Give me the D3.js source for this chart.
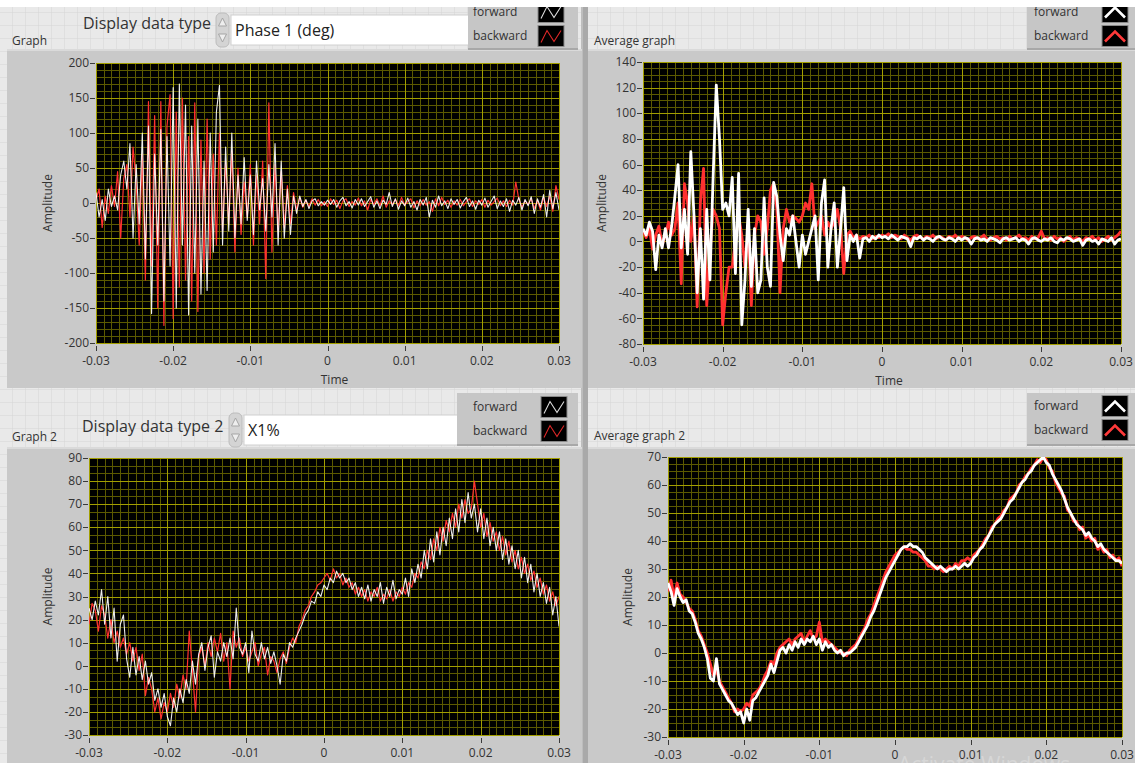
<!DOCTYPE html>
<html><head><meta charset="utf-8">
<script src="https://cdn.jsdelivr.net/npm/d3@7"></script>
<style>
html,body{margin:0;padding:0;background:#fff;overflow:hidden;}
svg{display:block;font-family:"Segoe UI","Open Sans","Noto Sans",sans-serif;}
</style></head><body>
<svg id="chart" width="1135" height="763"></svg>
<script>
// Waveform sampling: every series starts at t0 and is sampled every dt seconds
const t0 = -0.03, dt = 0.0004;

const timeTicks = [-0.03, -0.02, -0.01, 0, 0.01, 0.02, 0.03];
const timeTickLabels = ["-0.03", "-0.02", "-0.01", "0", "0.01", "0.02", "0.03"];
const phaseTicks = [-200, -150, -100, -50, 0, 50, 100, 150, 200];
const phaseAvgTicks = [-80, -60, -40, -20, 0, 20, 40, 60, 80, 100, 120, 140];
const x1Ticks = [-30, -20, -10, 0, 10, 20, 30, 40, 50, 60, 70, 80, 90];
const x1AvgTicks = [-30, -20, -10, 0, 10, 20, 30, 40, 50, 60, 70];

const seriesNames = ["forward", "backward"];

// Graph: Phase 1 (deg)
const phaseForward = [15,-20,5,-25,20,-5,10,-10,40,60, 20,85,-50,55,-30,100,-80,110,-158,70, -60,105,-140,95,-90,165,-150,170,-60,140, -160,110,-100,120,-130,60,-125,100,-70,130, 168,-60,80,-40,100,-50,40,-30,65,-25, 40,-45,60,-10,35,-40,55,-20,85,-60, 60,-50,20,-45,10,-15,10,-5,5,-8, 3,6,-4,2,-3,4,-2,5,-6,3, 8,-4,2,-7,5,-3,6,-5,2,9, -6,3,-8,4,-2,15,-5,6,-9,3, -4,7,-6,2,-10,5,-3,8,-20,4, -6,10,-4,3,-8,6,-2,5,-7,2, 8,-5,3,-9,4,-3,7,-6,2,10, -8,3,-5,6,-12,4,-3,8,-10,5, -4,9,-15,6,-6,12,-20,18,-8,15, -10];
const phaseBackward = [5,20,-35,10,-15,25,-5,45,-50,35, 55,-20,80,30,-60,70,-110,145,-90,125, -150,145,-175,110,155,-165,130,-120,150,-110, 95,-140,143,-155,90,-100,120,-80,70,-60, 100,-40,60,-30,75,-70,50,-45,30,-20, 55,-60,40,-30,60,-108,143,-70,55,-40, 45,-35,25,-30,15,-10,8,-6,4,-5, 6,-3,5,-4,2,-5,6,-2,4,-8, 3,6,-5,2,-3,7,-4,3,-10,5, -2,6,-4,10,-6,3,-2,5,-4,8, -3,2,6,-7,3,-4,5,-3,2,-12, 6,-4,8,-2,4,-6,3,-3,5,-4, 2,6,-5,3,-2,5,-6,4,-3,2, 7,-4,3,-5,4,-3,30,5,-6,3, -2,6,-8,4,-10,8,-5,10,-12,25, 5];

// Average graph
const phaseAvgForward = [10,5,15,8,-22,5,-5,10,-5,12, 35,60,-5,25,-10,70,20,-40,10,-45, 25,-30,50,122,80,25,30,20,50,-25, 53,-65,-30,25,-35,10,-40,-30,34,-20, -35,46,35,5,-15,10,5,20,0,-20, 5,-10,0,10,20,-30,30,48,-20,10, 30,-20,10,42,-15,5,0,5,-13,2, 3,0,4,2,5,3,4,2,5,3, 1,4,3,2,-4,3,2,4,1,3, 2,0,3,4,2,1,3,2,0,3, 1,3,2,-2,2,3,1,2,0,3, 2,1,-1,2,3,1,2,3,0,2, 1,-2,2,3,1,0,2,1,3,0, -1,2,1,3,2,0,1,2,-3,1, 2,0,1,-2,2,1,0,3,-2,1, 2];
const phaseAvgBackward = [8,3,10,-6,5,12,-3,5,15,5, 10,30,-33,45,30,0,20,-51,30,57, -50,-10,25,20,10,-65,-40,-20,-20,0, 20,5,-20,10,-50,5,20,15,-10,10, 40,45,25,-40,10,25,15,20,18,15, 20,30,25,45,10,15,20,5,15,10, 15,25,10,-25,5,8,3,5,2,4, 3,5,2,4,3,5,4,6,3,5, 4,2,5,3,1,4,5,3,2,4, 3,5,2,4,3,1,4,3,5,2, 4,3,1,3,4,2,3,5,2,1, 3,4,2,3,1,4,2,3,5,2, 3,1,4,2,3,8,2,3,1,4, 2,3,0,2,4,1,3,2,0,3, 2,4,1,3,0,2,4,1,3,5, 8];

// Graph 2: X1%
const x1Forward = [25,20,28,22,33,18,30,12,25,2, 18,22,3,-5,8,-4,4,-6,2,-8, -3,-15,-10,-18,-12,-22,-26,-14,-20,-10, -16,-6,-12,2,-8,5,10,-2,8,13, -5,6,2,10,4,12,3,25,8,5, 10,-3,15,5,2,10,3,8,1,6, 0,-8,5,2,10,8,12,15,18,22, 24,28,27,32,30,35,33,38,36,41, 38,40,36,38,33,36,30,34,29,35, 28,33,30,36,27,34,30,37,29,33, 31,38,30,42,36,44,38,50,42,55, 45,58,48,60,52,64,55,68,58,72, 62,75,64,70,58,68,55,64,52,60, 50,58,46,55,44,52,42,50,38,47, 36,44,32,40,30,36,27,34,22,30, 17];
const x1Backward = [18,27,24,15,26,22,12,20,10,15, 8,12,5,10,2,8,-2,5,-13,-5, -10,-20,-14,-23,-16,-20,-12,-18,-8,-14, -4,-10,15,-2,-20,4,8,0,10,4, 12,6,14,2,10,-10,15,8,12,4, 8,2,6,10,0,5,8,-4,4,2, -3,3,6,1,8,12,10,17,20,24, 26,30,32,35,36,38,40,37,42,38, 40,35,38,34,36,31,34,30,33,28, 32,30,34,28,31,29,33,28,32,30, 34,31,36,34,40,38,45,42,50,46, 55,50,60,54,63,58,66,60,70,64, 72,66,68,80,70,60,66,56,62,54, 58,50,56,48,54,45,50,42,47,40, 44,37,41,34,38,31,35,28,32,26, 30];

// Average graph 2
const x1AvgForward = [25,22,17,23,20,18,19,15,14,11, 7,5,2,-2,-9,-10,-2,-11,-13,-15, -17,-18,-20,-22,-21,-25,-20,-24,-17,-16, -14,-12,-10,-8,-4,-7,-3,1,2,0, 3,1,4,2,5,3,5,4,6,3, 5,1,4,2,3,1,0,1,-1,0, 0,1,2,4,6,8,10,13,15,18, 21,24,27,29,31,33,35,37,38,38, 39,38,38,37,36,34,33,32,31,30, 31,30,29,30,30,31,30,31,32,31, 32,34,35,37,38,40,42,44,46,47, 48,50,52,54,55,57,59,61,62,64, 65,67,68,69,70,68,67,64,62,60, 58,55,52,50,48,46,45,44,42,43, 41,40,38,39,37,36,35,34,33,33, 32];
const x1AvgBackward = [22,26,20,25,21,20,18,16,15,12, 8,6,3,0,-4,-8,-6,-10,-12,-14, -16,-18,-21,-20,-21,-20,-18,-19,-15,-14, -13,-11,-8,-6,-3,-4,0,2,3,4, 5,3,5,6,7,4,6,8,5,6, 11,4,5,4,3,2,1,0,0,-1, 1,2,3,5,7,9,12,14,17,20, 23,26,29,31,33,35,36,37,38,37, 37,36,36,35,34,33,31,31,30,31, 30,29,30,31,30,32,31,33,33,34, 33,35,36,37,39,41,42,45,46,48, 49,51,52,55,56,57,60,61,63,64, 66,67,69,68,70,69,66,65,61,59, 57,56,51,50,47,47,44,45,41,42, 40,41,37,38,36,37,34,35,33,34, 31];

const svg = d3.select("#chart");
const defs = svg.append("defs");

// front-panel alignment grid
const pat = defs.append("pattern").attr("id", "panelGrid")
  .attr("width", 13).attr("height", 13).attr("patternUnits", "userSpaceOnUse");
pat.append("rect").attr("width", 13).attr("height", 13).attr("fill", "#e9e9e9");
pat.append("path").attr("d", "M13 0V13M0 13H13").attr("stroke", "#d5d5d5").attr("stroke-width", 1).attr("fill", "none");

svg.append("rect").attr("width", 1135).attr("height", 763).attr("fill", "url(#panelGrid)");
svg.append("rect").attr("width", 1135).attr("height", 7).attr("fill", "#ffffff");

const panels = [
  { id: "g1", frame: [7, 49, 575, 339], plot: [96, 63, 559, 343], yDomain: [-200, 200], yTicks: phaseTicks, yMinor: 5,
    fwd: phaseForward, bwd: phaseBackward, thick: false, yLabelX: 48, timeLabel: true },
  { id: "g2", frame: [588, 49, 547, 339], plot: [643, 62, 1121, 344], yDomain: [-80, 140], yTicks: phaseAvgTicks, yMinor: 4,
    fwd: phaseAvgForward, bwd: phaseAvgBackward, thick: true, yLabelX: 602, timeLabel: true },
  { id: "g3", frame: [7, 447, 575, 316], plot: [89, 458, 559, 735], yDomain: [-30, 90], yTicks: x1Ticks, yMinor: 3,
    fwd: x1Forward, bwd: x1Backward, thick: false, yLabelX: 48, timeLabel: false },
  { id: "g4", frame: [588, 447, 547, 316], plot: [668, 457, 1122, 737], yDomain: [-30, 70], yTicks: x1AvgTicks, yMinor: 4,
    fwd: x1AvgForward, bwd: x1AvgBackward, thick: true, yLabelX: 628, timeLabel: false }
];

// splitter between the left and right columns
svg.append("rect").attr("x", 581).attr("y", 7).attr("width", 7).attr("height", 756).attr("fill", "#a9a9a9");
svg.append("rect").attr("x", 581).attr("y", 7).attr("width", 2).attr("height", 756).attr("fill", "#bdbdbd");

panels.forEach(p => {
  const [fx, fy, fw, fh] = p.frame;
  const g = svg.append("g");
  g.append("rect").attr("x", fx).attr("y", fy).attr("width", fw).attr("height", fh).attr("fill", "#c9c9c9");
  g.append("rect").attr("x", fx).attr("y", fy).attr("width", fw).attr("height", 2).attr("fill", "#dadada");

  const [px0, py0, px1, py1] = p.plot;
  const x = d3.scaleLinear().domain([-0.03, 0.03]).range([px0, px1]);
  const y = d3.scaleLinear().domain(p.yDomain).range([py1, py0]);

  g.append("rect").attr("x", px0).attr("y", py0).attr("width", px1 - px0).attr("height", py1 - py0).attr("fill", "#000");

  // minor grid
  const minorX = d3.range(0, 61).map(k => -0.03 + k * 0.001);
  const yStep = p.yTicks[1] - p.yTicks[0];
  const nMinorY = Math.round((p.yDomain[1] - p.yDomain[0]) / yStep * p.yMinor);
  const minorY = d3.range(0, nMinorY + 1).map(k => p.yDomain[0] + k * yStep / p.yMinor);
  const grid = g.append("g").attr("shape-rendering", "crispEdges");
  grid.selectAll(".mx").data(minorX).join("line")
    .attr("x1", d => Math.round(x(d)) + 0.5).attr("x2", d => Math.round(x(d)) + 0.5)
    .attr("y1", py0).attr("y2", py1).attr("stroke", "#5c5900").attr("stroke-width", 1);
  grid.selectAll(".my").data(minorY).join("line")
    .attr("y1", d => Math.round(y(d)) + 0.5).attr("y2", d => Math.round(y(d)) + 0.5)
    .attr("x1", px0).attr("x2", px1).attr("stroke", "#5c5900").attr("stroke-width", 1);
  grid.selectAll(".Mx").data(timeTicks).join("line")
    .attr("x1", d => Math.round(x(d)) + 0.5).attr("x2", d => Math.round(x(d)) + 0.5)
    .attr("y1", py0).attr("y2", py1).attr("stroke", "#a29e00").attr("stroke-width", 1);
  grid.selectAll(".My").data(p.yTicks).join("line")
    .attr("y1", d => Math.round(y(d)) + 0.5).attr("y2", d => Math.round(y(d)) + 0.5)
    .attr("x1", px0).attr("x2", px1).attr("stroke", "#a29e00").attr("stroke-width", 1);

  // traces
  defs.append("clipPath").attr("id", "clip-" + p.id)
    .append("rect").attr("x", px0).attr("y", py0).attr("width", px1 - px0).attr("height", py1 - py0);
  const line = d3.line().x((d, i) => x(t0 + i * dt)).y(d => y(d));
  const traces = g.append("g").attr("clip-path", `url(#clip-${p.id})`).attr("fill", "none")
    .attr("stroke-linejoin", "round");
  traces.append("path").datum(p.bwd).attr("d", line)
    .attr("stroke", "#ff3030").attr("stroke-width", p.thick ? 2.8 : 1.2);
  traces.append("path").datum(p.fwd).attr("d", line)
    .attr("stroke", "#ffffff").attr("stroke-width", p.thick ? 2.8 : 1.1).attr("stroke-opacity", p.thick ? 1 : 0.92);

  // y axis ticks and labels
  const ya = g.append("g");
  ya.selectAll("line").data(p.yTicks).join("line")
    .attr("x1", px0 - 6).attr("x2", px0 - 1)
    .attr("y1", d => Math.round(y(d)) + 0.5).attr("y2", d => Math.round(y(d)) + 0.5)
    .attr("stroke", "#3a3a3a").attr("stroke-width", 1);
  ya.selectAll("text").data(p.yTicks).join("text")
    .attr("x", px0 - 7).attr("y", d => y(d)).attr("dy", "0.35em")
    .attr("text-anchor", "end").attr("font-size", 12).attr("fill", "#333")
    .text(d => d);

  // x axis ticks and labels
  const xa = g.append("g");
  xa.selectAll("line").data(timeTicks).join("line")
    .attr("x1", d => Math.round(x(d)) + 0.5).attr("x2", d => Math.round(x(d)) + 0.5)
    .attr("y1", py1 + 3).attr("y2", py1 + 8)
    .attr("stroke", "#3a3a3a").attr("stroke-width", 1);
  xa.selectAll("text").data(timeTicks).join("text")
    .attr("x", d => x(d)).attr("y", py1 + 22)
    .attr("text-anchor", "middle").attr("font-size", 12).attr("fill", "#333")
    .text((d, i) => timeTickLabels[i]);

  g.append("text").attr("transform", `translate(${p.yLabelX},${(py0 + py1) / 2}) rotate(-90)`)
    .attr("text-anchor", "middle").attr("dy", "0.35em").attr("font-size", 12).attr("fill", "#333")
    .text("Amplitude");
  if (p.timeLabel) {
    g.append("text").attr("x", (px0 + px1) / 2 + 7).attr("y", py1 + 41)
      .attr("text-anchor", "middle").attr("font-size", 12).attr("fill", "#333").text("Time");
  }
});

// control labels, selectors and legends
function label(x0, y0, txt, size) {
  svg.append("text").attr("x", x0).attr("y", y0).attr("font-size", size).attr("fill", "#333").text(txt);
}
label(12, 45, "Graph", 12);
label(594, 45, "Average graph", 12);
label(12, 441, "Graph 2", 12);
label(594, 440, "Average graph 2", 12);

function selector(lx, ly, labelText, sx, bx, by, bw, valueText) {
  label(lx, ly, labelText, 16);
  const s = svg.append("g");
  s.append("rect").attr("x", sx).attr("y", by - 2).attr("width", 13).attr("height", 34).attr("rx", 5)
    .attr("fill", "#d4d4d4").attr("stroke", "#bcbcbc");
  s.append("path").attr("d", `M${sx + 2.5} ${by + 11}L${sx + 6.5} ${by + 3}L${sx + 10.5} ${by + 11}Z`).attr("fill", "#eeeeee").attr("stroke", "#a5a5a5");
  s.append("path").attr("d", `M${sx + 2.5} ${by + 19}L${sx + 6.5} ${by + 27}L${sx + 10.5} ${by + 19}Z`).attr("fill", "#eeeeee").attr("stroke", "#a5a5a5");
  s.append("rect").attr("x", bx).attr("y", by).attr("width", bw).attr("height", 30)
    .attr("fill", "#ffffff").attr("stroke", "#d0d0d0");
  svg.append("text").attr("x", bx + 4).attr("y", by + 21).attr("font-size", 16).attr("fill", "#222").text(valueText);
}
selector(83, 29, "Display data type", 216, 231, 15, 240, "Phase 1 (deg)");
selector(82, 432, "Display data type 2", 229, 244, 415, 222, "X1%");

function legend(bx, by, bw, tx, swx, rowY, thick) {
  const g = svg.append("g");
  g.append("rect").attr("x", bx).attr("y", by).attr("width", bw).attr("height", 52)
    .attr("fill", "#c6c6c6");
  g.append("rect").attr("x", bx).attr("y", by + 51).attr("width", bw).attr("height", 2).attr("fill", "#a8a8a8");
  seriesNames.forEach((name, i) => {
    const cy = rowY + i * 24;
    g.append("text").attr("x", tx).attr("y", cy).attr("dy", "0.35em").attr("font-size", 12)
      .attr("fill", "#333").text(name);
    const sw = 26, sh = 21, sx = swx, sy = cy - 10.5;
    g.append("rect").attr("x", sx).attr("y", sy).attr("width", sw).attr("height", sh)
      .attr("fill", "#000").attr("stroke", "#8a8a8a");
    const col = i === 0 ? (thick ? "#ffffff" : "#dddddd") : (thick ? "#ff3a3a" : "#e02828");
    const pts = thick
      ? [[3, 16], [13, 6], [23, 16]]
      : [[3, 17], [9, 5], [16, 16], [23, 5]];
    g.append("path").attr("d", d3.line()(pts.map(q => [sx + q[0], sy + q[1]])))
      .attr("fill", "none").attr("stroke", col).attr("stroke-width", thick ? 2.6 : 1.1);
  });
}
legend(468, -3, 110, 473, 538, 12, false);
legend(1027, -3, 108, 1034, 1102, 12, true);
legend(457, 393, 121, 473, 541, 407, false);
legend(1027, 393, 108, 1034, 1102, 406, true);
svg.append("rect").attr("width", 1135).attr("height", 7).attr("fill", "#ffffff");

// faint OS watermark over the lower right graph
svg.append("text").attr("x", 898).attr("y", 772).attr("font-size", 21).attr("fill", "#dcdcdc")
  .attr("fill-opacity", 0.75).text("Activate Windows");
</script>
</body></html>
